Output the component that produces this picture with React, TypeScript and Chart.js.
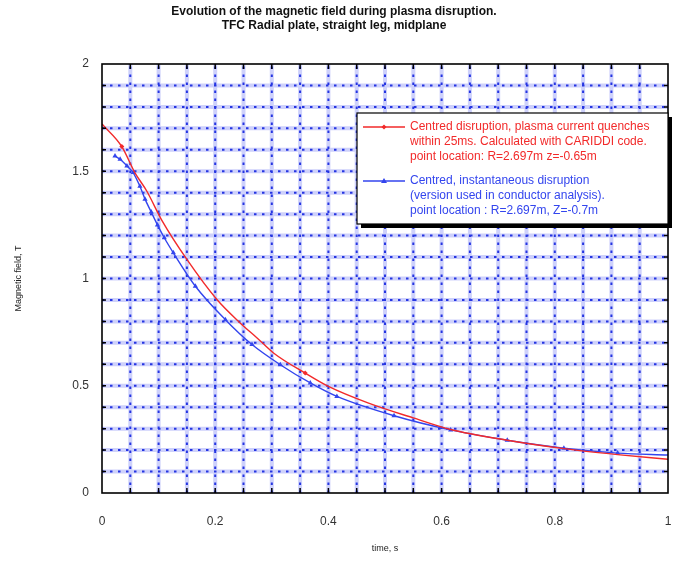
import React, { useEffect, useRef } from "react";
import { Chart, registerables } from "chart.js";

Chart.register(...registerables);

const TITLE_LINES = [
  "Evolution of the magnetic field during plasma disruption.",
  "TFC Radial plate, straight leg, midplane",
];
const X_TITLE = "time, s";
const Y_TITLE = "Magnetic field, T";

const X_MIN = 0;
const X_MAX = 1;
const X_LABEL_STEP = 0.2;
const X_GRID_STEP = 0.05;
const Y_MIN = 0;
const Y_MAX = 2;
const Y_LABEL_STEP = 0.5;
const Y_GRID_STEP = 0.1;

// Red: centred disruption, 25 ms current quench (CARIDDI)
const redTime = [0, 0.035, 0.058, 0.079, 0.106, 0.15, 0.203, 0.244, 0.274, 0.303, 0.359, 0.4, 0.471, 0.55, 0.616, 0.716, 0.816, 0.911, 1.0];
const redField = [1.72, 1.615, 1.494, 1.408, 1.27, 1.089, 0.902, 0.793, 0.723, 0.653, 0.559, 0.497, 0.419, 0.35, 0.296, 0.246, 0.207, 0.179, 0.157];
const redMarkerTimes = [0.035, 0.359];

// Blue: centred, instantaneous disruption
const blueTime = [0.023, 0.032, 0.044, 0.055, 0.067, 0.076, 0.087, 0.098, 0.11, 0.126, 0.165, 0.218, 0.265, 0.315, 0.368, 0.415, 0.516, 0.616, 0.716, 0.816, 0.911, 1.0];
const blueField = [1.571, 1.556, 1.525, 1.494, 1.43, 1.37, 1.31, 1.25, 1.19, 1.12, 0.964, 0.808, 0.692, 0.598, 0.513, 0.45, 0.36, 0.294, 0.246, 0.209, 0.186, 0.177];

const redLegend = [
  "Centred disruption, plasma current quenches",
  "within 25ms. Calculated with CARIDDI code.",
  "point location: R=2.697m z=-0.65m",
];
const blueLegend = [
  "Centred, instantaneous disruption",
  "(version used in conductor analysis).",
  "point location : R=2.697m, Z=-0.7m",
];

const RED = "#f22a2a";
const BLUE = "#3345ee";
const FONT = "'Liberation Sans', Arial, sans-serif";

function fmt(v: number) {
  return String(+Number(v).toFixed(2));
}

const gridPlugin = {
  id: "blueGrid",
  beforeDatasetsDraw(chart: any) {
    const { ctx, chartArea: a, scales } = chart;
    const x = scales.x;
    const y = scales.y;
    const xs: number[] = [];
    for (let i = 1; X_MIN + i * X_GRID_STEP < X_MAX - 1e-9; i++) xs.push(x.getPixelForValue(X_MIN + i * X_GRID_STEP));
    const ys: number[] = [];
    for (let i = 1; Y_MIN + i * Y_GRID_STEP < Y_MAX - 1e-9; i++) ys.push(y.getPixelForValue(Y_MIN + i * Y_GRID_STEP));
    ctx.save();
    ctx.beginPath();
    ctx.rect(a.left, a.top, a.right - a.left, a.bottom - a.top);
    ctx.clip();
    // light band
    ctx.strokeStyle = "rgba(125,135,245,0.38)";
    ctx.lineWidth = 4;
    ctx.setLineDash([]);
    ctx.beginPath();
    xs.forEach((px) => { ctx.moveTo(px, a.top); ctx.lineTo(px, a.bottom); });
    ys.forEach((py) => { ctx.moveTo(a.left, py); ctx.lineTo(a.right, py); });
    ctx.stroke();
    // dark dots
    ctx.strokeStyle = "#2535e2";
    ctx.lineWidth = 2;
    ctx.setLineDash([2.5, 5.5]);
    ctx.beginPath();
    xs.forEach((px) => { ctx.moveTo(px, a.bottom); ctx.lineTo(px, a.top); });
    ys.forEach((py) => { ctx.moveTo(a.left, py); ctx.lineTo(a.right, py); });
    ctx.stroke();
    ctx.restore();
  },
  afterDatasetsDraw(chart: any) {
    const { ctx, chartArea: a, scales } = chart;
    const x = scales.x;
    const y = scales.y;
    ctx.save();
    ctx.strokeStyle = "#000";
    ctx.lineWidth = 1.5;
    ctx.setLineDash([]);
    ctx.beginPath();
    for (let i = 1; X_MIN + i * X_GRID_STEP < X_MAX - 1e-9; i++) {
      const px = x.getPixelForValue(X_MIN + i * X_GRID_STEP);
      ctx.moveTo(px, a.bottom); ctx.lineTo(px, a.bottom - 5);
      ctx.moveTo(px, a.top); ctx.lineTo(px, a.top + 5);
    }
    for (let i = 1; Y_MIN + i * Y_GRID_STEP < Y_MAX - 1e-9; i++) {
      const py = y.getPixelForValue(Y_MIN + i * Y_GRID_STEP);
      ctx.moveTo(a.left, py); ctx.lineTo(a.left + 4, py);
      ctx.moveTo(a.right, py); ctx.lineTo(a.right - 4, py);
    }
    ctx.stroke();
    ctx.lineWidth = 1.6;
    ctx.strokeRect(a.left, a.top, a.right - a.left, a.bottom - a.top);
    ctx.restore();
  },
};

const legendPlugin = {
  id: "boxLegend",
  afterDraw(chart: any) {
    const { ctx, chartArea: a } = chart;
    const w = 311;
    const h = 111;
    const left = a.right - w;
    const top = a.top + 49;
    ctx.save();
    ctx.fillStyle = "#000";
    ctx.fillRect(left + 4, top + 4, w, h);
    ctx.fillStyle = "#fff";
    ctx.fillRect(left, top, w, h);
    ctx.strokeStyle = "#000";
    ctx.lineWidth = 1.2;
    ctx.strokeRect(left, top, w, h);

    ctx.font = `12px ${FONT}`;
    ctx.textBaseline = "middle";
    ctx.textAlign = "left";
    const groups = [
      { lines: redLegend, color: RED, y0: top + 14, marker: "diamond" },
      { lines: blueLegend, color: BLUE, y0: top + 68, marker: "triangle" },
    ];
    groups.forEach((g) => {
      ctx.strokeStyle = g.color;
      ctx.fillStyle = g.color;
      ctx.lineWidth = 1.4;
      ctx.beginPath();
      ctx.moveTo(left + 6, g.y0);
      ctx.lineTo(left + 48, g.y0);
      ctx.stroke();
      const cx = left + 27;
      ctx.beginPath();
      if (g.marker === "triangle") {
        ctx.moveTo(cx, g.y0 - 3);
        ctx.lineTo(cx + 3, g.y0 + 2);
        ctx.lineTo(cx - 3, g.y0 + 2);
      } else {
        ctx.moveTo(cx, g.y0 - 2.5);
        ctx.lineTo(cx + 2.5, g.y0);
        ctx.lineTo(cx, g.y0 + 2.5);
        ctx.lineTo(cx - 2.5, g.y0);
      }
      ctx.closePath();
      ctx.fill();
      g.lines.forEach((t, i) => {
        ctx.fillText(t, left + 53, g.y0 + i * 15);
      });
    });
    ctx.restore();
  },
};

export default function App() {
  const ref = useRef<HTMLCanvasElement | null>(null);

  useEffect(() => {
    if (!ref.current) return;
    const redData = redTime.map((t, i) => ({ x: t, y: redField[i] }));
    const blueData = blueTime.map((t, i) => ({ x: t, y: blueField[i] }));
    const redRadius = redTime.map((t) => (redMarkerTimes.includes(t) ? 2.5 : 0));
    const blueRadius = blueTime.map((t, i) => (i === blueTime.length - 1 ? 0 : 3));

    const chart = new Chart(ref.current, {
      type: "line",
      data: {
        datasets: [
          {
            label: redLegend.join(" "),
            data: redData,
            borderColor: RED,
            backgroundColor: RED,
            borderWidth: 1.4,
            pointRadius: redRadius,
            pointStyle: "rectRot",
            pointBorderWidth: 0,
            cubicInterpolationMode: "monotone",
            fill: false,
          },
          {
            label: blueLegend.join(" "),
            data: blueData,
            borderColor: BLUE,
            backgroundColor: BLUE,
            borderWidth: 1.4,
            pointRadius: blueRadius,
            pointStyle: "triangle",
            pointBorderWidth: 0,
            cubicInterpolationMode: "monotone",
            fill: false,
          },
        ],
      },
      options: {
        animation: false,
        responsive: false,
        devicePixelRatio: 1,
        layout: { padding: { left: 0, right: 13, top: 0, bottom: 0 } },
        plugins: {
          legend: { display: false },
          tooltip: { enabled: false },
          title: {
            display: true,
            text: TITLE_LINES,
            color: "#111",
            font: { family: FONT, size: 12, weight: "bold", lineHeight: 14 / 12 },
            padding: { top: 5, bottom: 31 },
          },
        },
        scales: {
          x: {
            type: "linear",
            min: X_MIN,
            max: X_MAX,
            grid: { display: false, drawTicks: true, tickLength: 17 },
            border: { display: false },
            ticks: {
              stepSize: X_LABEL_STEP,
              autoSkip: false,
              maxRotation: 0,
              padding: 4,
              color: "#333",
              font: { family: FONT, size: 12 },
              callback: (v: any) => fmt(v),
            },
            title: {
              display: true,
              text: X_TITLE,
              color: "#222",
              font: { family: FONT, size: 9 },
              padding: { top: 0, bottom: 9 },
            },
            afterFit: (s: any) => { s.height = 70; },
          },
          y: {
            type: "linear",
            min: Y_MIN,
            max: Y_MAX,
            grid: { display: false, drawTicks: false },
            border: { display: false },
            ticks: {
              stepSize: Y_LABEL_STEP,
              padding: 13,
              color: "#333",
              font: { family: FONT, size: 12 },
              callback: (v: any) => fmt(v),
            },
            title: {
              display: true,
              text: Y_TITLE,
              color: "#222",
              font: { family: FONT, size: 9 },
              padding: { top: 13, bottom: 0 },
            },
            afterFit: (s: any) => { s.width = 102; },
          },
        },
      } as any,
      plugins: [gridPlugin, legendPlugin],
    });
    return () => chart.destroy();
  }, []);

  return (
    <div style={{ position: "absolute", left: 0, top: 0, width: 681, height: 563, background: "#fff" }}>
      <canvas ref={ref} width={681} height={563} style={{ display: "block" }} />
    </div>
  );
}
